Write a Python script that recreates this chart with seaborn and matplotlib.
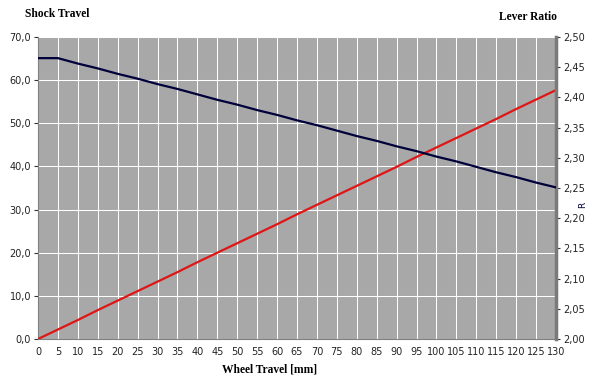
import matplotlib
matplotlib.use('Agg')
import matplotlib.pyplot as plt
from matplotlib.ticker import MultipleLocator, FuncFormatter
import seaborn as sns
import pandas as pd

# values
wheel_travel = [0, 5, 10, 15, 20, 25, 30, 35, 40, 45, 50, 55, 60, 65,
                70, 75, 80, 85, 90, 95, 100, 105, 110, 115, 120, 125, 130]
shock_travel = [0.0, 2.2, 4.4, 6.7, 8.9, 11.1, 13.3, 15.5, 17.8, 20.0, 22.2, 24.4, 26.6, 28.9,
                31.1, 33.3, 35.5, 37.7, 39.9, 42.2, 44.4, 46.6, 48.8, 51.0, 53.3, 55.5, 57.7]
lever_ratio = [2.465, 2.465, 2.456, 2.448, 2.439, 2.431, 2.422, 2.414, 2.405, 2.396, 2.388, 2.379, 2.371, 2.362,
               2.354, 2.345, 2.336, 2.328, 2.319, 2.311, 2.302, 2.294, 2.285, 2.276, 2.268, 2.259, 2.251]

df = pd.DataFrame({'wheel': wheel_travel, 'shock': shock_travel, 'ratio': lever_ratio})

sns.set_style('white')
plt.rcParams['font.family'] = ['DejaVu Sans']

fig = plt.figure(figsize=(6.1, 3.78), dpi=100)
ax = fig.add_axes([38 / 610, 39 / 378, 518 / 610, 302 / 378])
ax.set_facecolor('#a8a8a8')
ax2 = ax.twinx()

sns.lineplot(data=df, x='wheel', y='shock', ax=ax, color='#e01515', linewidth=1.6, zorder=3)
sns.lineplot(data=df, x='wheel', y='ratio', ax=ax2, color='#00003a', linewidth=1.6, zorder=3)

ax.set_xlim(0, 130)
ax.set_ylim(0, 70)
ax2.set_ylim(2.0, 2.5)
ax.xaxis.set_major_locator(MultipleLocator(5))
ax.yaxis.set_major_locator(MultipleLocator(10))
ax2.yaxis.set_major_locator(MultipleLocator(0.05))
ax.yaxis.set_major_formatter(FuncFormatter(lambda v, p: f'{v:.1f}'.replace('.', ',')))
ax2.yaxis.set_major_formatter(FuncFormatter(lambda v, p: f'{v:.2f}'.replace('.', ',')))

ax.grid(True, color='white', linewidth=0.75)
ax.set_axisbelow(True)
ax2.grid(False)

tick_kw = dict(labelsize=7, colors='#333333', length=3, width=0.8, direction='out', pad=2)
ax.tick_params(axis='both', **tick_kw)
ax.tick_params(axis='x', pad=3)
ax2.tick_params(axis='y', **tick_kw)
for lab in ax.get_xticklabels() + ax.get_yticklabels() + ax2.get_yticklabels():
    lab.set_color('#222222')

for a in (ax, ax2):
    for s in a.spines.values():
        s.set_visible(False)
ax.spines['left'].set_visible(True)
ax.spines['left'].set_color('#808080')
ax.spines['bottom'].set_visible(True)
ax.spines['bottom'].set_color('#808080')
ax2.spines['right'].set_visible(True)
ax2.spines['right'].set_color('#7a7a7a')
ax2.spines['right'].set_linewidth(2.5)

ax.set_xlabel('')
ax.set_ylabel('')
ax2.set_ylabel('')

serif = dict(family='Liberation Serif', fontweight='bold', fontsize=8.3, color='black')
fig.text(25 / 610, 1 - 14 / 378, 'Shock Travel', ha='left', va='center', **serif)
fig.text(557 / 610, 1 - 17 / 378, 'Lever Ratio', ha='right', va='center', **serif)
fig.text(222 / 610, 1 - 369 / 378, 'Wheel Travel [mm]', ha='left', va='center', **serif)
fig.text(583 / 610, 1 - 205 / 378, 'R', rotation=90, ha='center', va='center',
         fontsize=6.5, color='#00003a')

fig.savefig('out.png', dpi=100)
